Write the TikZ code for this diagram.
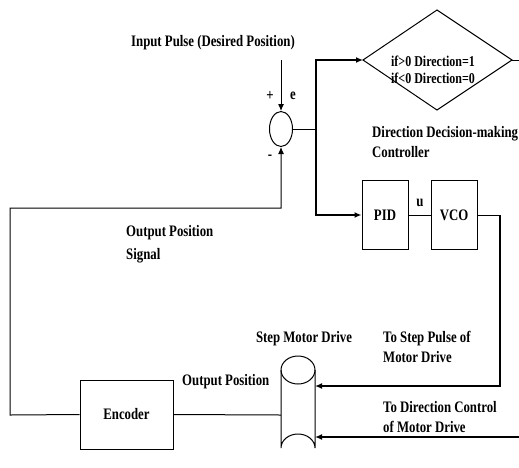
\documentclass[tikz,border=0pt]{standalone}
\usepackage{fontspec}
\setmainfont{Liberation Serif}[FakeStretch=0.8]
\usetikzlibrary{shapes.geometric,arrows.meta}
\begin{document}
\begin{tikzpicture}[x=1pt,y=-1pt,
  lbl/.style={font=\fontsize{16}{20}\selectfont\bfseries, inner sep=0pt},
  blk/.style={draw, line width=1pt, minimum width=46pt, minimum height=69pt, inner sep=0pt, font=\fontsize{16}{20}\selectfont\bfseries},
  thin/.style={line width=1pt},
  thk/.style={line width=1.5pt},
  arr/.style={-{Latex[length=7pt,width=6pt]}}
]
\useasboundingbox (0,0) rectangle (519,467);
% summing junction
\node[ellipse, draw, thin, minimum width=23pt, minimum height=35pt, inner sep=0pt] (sum) at (281,129) {};
\coordinate (in) at (281,60);
\draw[thin,arr] (in) -- (sum.north);
\node[lbl] (plus) at (270,96) {+};
\node[lbl] (e) at (293,96) {e};
\node[lbl] (minus) at (270,157) {-};
\node[lbl] (inlbl) at (213,43) {Input Pulse (Desired Position)};
% branch
\coordinate (br) at (316,129);
\draw[thin] (sum.east) -- (br);
% diamond
\coordinate (dl) at (363,60);
\coordinate (dt) at (437,10);
\coordinate (dr) at (512,60);
\coordinate (db) at (437,110);
\coordinate (dout) at (519,60);
\draw[thin] (dl) -- (dt) -- (dr) -- (db) -- cycle;
\draw[thin] (dr) -- (dout);
\node[lbl, align=center, font=\fontsize{15}{17}\selectfont\bfseries] (dtext) at (433,70) {if>0 Direction=1\\if<0 Direction=0};
\draw[thk,arr] (br) |- (dl);
\node[lbl, align=left, anchor=west] (ddm) at (372,142) {Direction Decision-making\\Controller};
% PID and VCO
\node[blk] (pid) at (385,215) {PID};
\node[blk] (vco) at (454,215) {VCO};
\draw[thk,arr] (br) |- (pid.west);
\draw[thin] (pid.east) -- (vco.west);
\node[lbl] (u) at (420,203) {u};
% cylinder (step motor)
\coordinate (cylL) at (281,415);
\coordinate (cylR1) at (315,386);
\coordinate (cylR2) at (315,437);
\draw[thin] (298,370) ellipse [x radius=17, y radius=14];
\draw[thin] (281,370) -- (281,448) arc[start angle=180, end angle=360, x radius=17, y radius=14] -- (315,370);
\node[lbl] (smd) at (304,339) {Step Motor Drive};
\coordinate (vcoturn) at (500,215);
\draw[thin] (vco.east) -- (vcoturn);
\draw[thk,arr] (vcoturn) |- (cylR1);
\coordinate (dirin) at (519,437);
\draw[thk,arr] (dirin) -- (cylR2);
\node[lbl, align=left, anchor=west] (tsp) at (383,347) {To Step Pulse of\\Motor Drive};
\node[lbl, align=left, anchor=west] (tdc) at (383,417) {To Direction Control\\of Motor Drive};
% encoder
\node[blk, minimum width=93pt, minimum height=69pt] (enc) at (126.5,414.5) {Encoder};
\draw[thin] (enc.east) -- (cylL);
\node[lbl, anchor=west] (op) at (182,382) {Output Position};
\coordinate (fb1) at (10,415);
\coordinate (fb2) at (10,208);
\coordinate (fb3) at (281,208);
\draw[thin,arr] (enc.west) -- (fb1) -- (fb2) -- (fb3) -- (sum.south);
\node[lbl, align=left, anchor=west, font=\fontsize{16}{23}\selectfont\bfseries] (ops) at (126,244) {Output Position\\Signal};
\end{tikzpicture}
\end{document}
